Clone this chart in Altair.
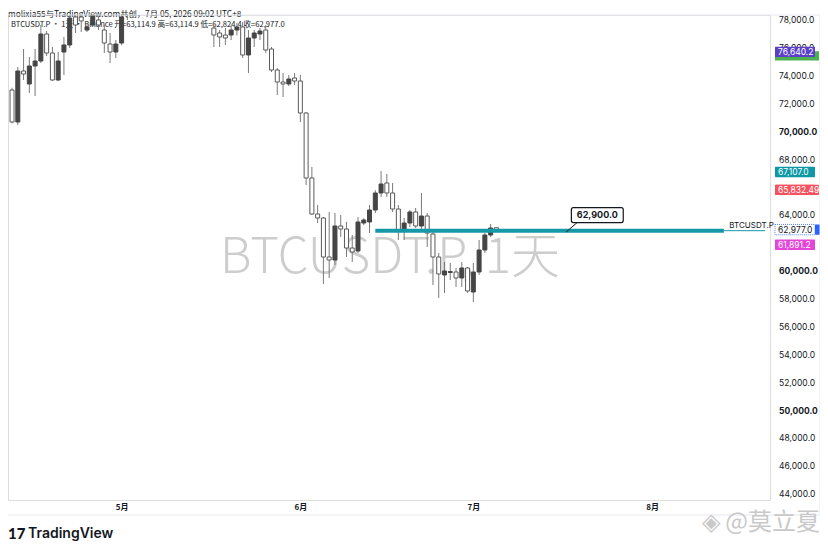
import altair as alt
import pandas as pd

# ---------------- data ----------------
dates = (
    [f"2026-04-{d:02d}" for d in range(12, 31)]
    + ["2026-05-01", "2026-05-02", "2026-05-03"]
    + [f"2026-05-{d:02d}" for d in range(17, 32)]
    + [f"2026-06-{d:02d}" for d in range(1, 31)]
    + [f"2026-07-{d:02d}" for d in range(1, 6)]
)
opens = [72987, 70693, 74349, 73417, 74708, 75066, 77002, 75640, 73704, 75712, 76214, 78222, 78222, 77289, 77648, 78006, 77289, 76285, 75712,
         76357, 78900, 79500,
         77432, 77074, 76930, 76930, 77289, 77504, 75497, 76715, 77002, 77289, 75927, 74421, 73561, 73417, 73848,
         73632, 71338, 66678, 64096, 63810, 61013, 60798, 63236, 63020, 61658, 61443, 63451, 63523, 64383, 65602,
         66320, 65602, 64455, 62877, 63451, 64240, 63236, 63953, 62662, 61013, 59723, 59900, 59938, 59508, 60225,
         58504, 59938, 61515, 62590, 63114.9]
highs = [73150, 74636, 75927, 75353, 75927, 77648, 77217, 76070, 75712, 76787, 78400, 78600, 78500, 77800, 78700, 78300, 77648, 77074, 76572,
         78600, 79800, 80200,
         77791, 77289, 77432, 77648, 77800, 77863, 77289, 77289, 77432, 77648, 76070, 74565, 74206, 74063, 74206,
         74063, 71410, 67466, 64742, 63881, 64240, 64168, 64025, 63523, 62590, 63881, 63800, 64742, 65800, 67180,
         66965, 66320, 64742, 63810, 64383, 64527, 65602, 64168, 62949, 61300, 60655, 60583, 60225, 60655, 60300,
         60583, 62231, 62733, 63379, 63114.9]
lows = [70600, 70478, 73704, 72772, 72557, 74923, 75425, 73632, 73632, 74063, 75998, 77074, 77146, 77146, 77500, 77289, 75640, 74923, 75282,
        76200, 78006, 78150,
        76070, 76070, 76214, 76572, 76900, 75282, 74206, 76070, 76572, 75640, 74278, 72629, 72485, 73274, 73346,
        70693, 66176, 64025, 63451, 59078, 59508, 60440, 62446, 61013, 60655, 61300, 63300, 62733, 64168, 65315,
        65315, 64240, 62231, 62231, 63160, 63092, 62949, 61730, 59006, 58074, 58432, 59364, 58862, 58862, 58432,
        57787, 59723, 61300, 62446, 62824.4]
closes = [70693, 74349, 74134, 74708, 75066, 77002, 75640, 73704, 75066, 76214, 78150, 77648, 77935, 77504, 78366, 77648, 76357, 75712, 76285,
          78222, 79500, 79100,
          76930, 76787, 76715, 77289, 77504, 75497, 76715, 77074, 77217, 75855, 74421, 73561, 73417, 73776, 73632,
          71338, 66678, 64096, 63810, 61013, 60798, 63236, 63020, 61658, 61372, 63523, 63666, 64383, 65602, 66248,
          65602, 64455, 62949, 63451, 64240, 63236, 63953, 62733, 61013, 59795, 60010, 59970, 59508, 60225, 58576,
          59938, 61515, 62590, 63092, 62977.0]

# price-scale labels that are visible (66,000 and 62,000 sit fully under badges)
price_ticks = [44000, 46000, 48000, 50000, 52000, 54000, 56000, 58000, 60000, 64000, 68000, 70000, 72000, 74000, 76000, 78000]
month_ticks = ["2026-05-01", "2026-06-01", "2026-07-01", "2026-08-01"]

# horizontal drawing (62,900 level)
level_price = 62900
level_start = "2026-06-14"
level_end = "2026-08-13T11:00"
level_label_end = "2026-08-20T14:00"

# price-scale badges
badge_texts = ["76,640.2", "67,107.0", "65,832.49", "61,891.2"]
badge_prices = [75720, 67107, 65832, 61891]
badge_colors = ["#5b3fc6", "#0e98a6", "#f5515f", "#e445d9"]

# ---------------- frame ----------------
X0, X1 = "2026-04-12T04:00", "2026-08-20T14:00"
Y0, Y1 = 43590, 78365
W, H = 762, 485

df = pd.DataFrame({"date": pd.to_datetime(dates), "open": opens, "high": highs, "low": lows, "close": closes})
df["dir"] = ["up" if c >= o else "down" for o, c in zip(opens, closes)]

xs = alt.Scale(domain=[X0, X1])
ys = alt.Scale(domain=[Y0, Y1], nice=False, zero=False)

xaxis = alt.Axis(values=month_ticks, labelExpr="(month(datum.value)+1) + '月'", title=None, grid=False,
                 ticks=False, domain=False, labelFontSize=8, labelFontWeight="bold", labelColor="#131722",
                 labelPadding=3, labelFont="Noto Sans CJK SC")

FONT = "Noto Sans CJK SC"

# price scale labels (drawn as text)
tick_df = pd.DataFrame({"p": price_ticks, "t": [f"{v:,.1f}" for v in price_ticks]})
tick_df["bold"] = [v % 10000 == 0 for v in price_ticks]
ticks_normal = alt.Chart(tick_df[~tick_df["bold"]]).mark_text(
    fontSize=8.5, font="Inter", color="#131722", align="left", baseline="middle"
).encode(x=alt.value(771), y="p:Q", text="t:N")
ticks_bold = alt.Chart(tick_df[tick_df["bold"]]).mark_text(
    fontSize=8.5, font="Inter", fontWeight="bold", color="#131722", align="left", baseline="middle"
).encode(x=alt.value(771), y="p:Q", text="t:N")

# watermark
watermark = alt.Chart(pd.DataFrame({"t": ["BTCUSDT.P, 1天"]})).mark_text(
    fontSize=49, font=FONT, fontWeight=300, color="#cdcdcd", align="center", baseline="middle"
).encode(x=alt.value(382), y=alt.value(243), text="t:N")

# header
header1 = alt.Chart(pd.DataFrame({"t": ["molixia55与TradingView.com共创，7月 05, 2026 09:02 UTC+8"]})).mark_text(
    fontSize=8.3, font=FONT, color="#131722", align="left", baseline="top"
).encode(x=alt.value(0), y=alt.value(-5.5), text="t:N")
header2 = alt.Chart(pd.DataFrame({"t": ["BTCUSDT.P · 1天 · Binance  开=63,114.9  高=63,114.9  低=62,824.4  收=62,977.0"]})).mark_text(
    fontSize=7.6, font=FONT, color="#131722", align="left", baseline="middle"
).encode(x=alt.value(3), y=alt.value(10), text="t:N")

wick = alt.Chart(df).mark_rule(color="#7a7a7a", strokeWidth=1, clip=True).encode(
    x=alt.X("date:T", scale=xs, axis=xaxis),
    y=alt.Y("low:Q", scale=ys, axis=None),
    y2="high:Q",
)
body = alt.Chart(df).mark_bar(size=4, strokeWidth=1, clip=True).encode(
    x="date:T",
    y="open:Q",
    y2="close:Q",
    fill=alt.Fill("dir:N", scale=alt.Scale(domain=["up", "down"], range=["#454545", "#ffffff"]), legend=None),
    stroke=alt.Stroke("dir:N", scale=alt.Scale(domain=["up", "down"], range=["#454545", "#5a5a5a"]), legend=None),
)

level_df = pd.DataFrame({"x": [pd.Timestamp(level_start)], "x2": [pd.Timestamp(level_end)], "y": [level_price]})
level = alt.Chart(level_df).mark_rule(color="#1699a7", strokeWidth=4).encode(x="x:T", x2="x2:T", y="y:Q")
level_thin_df = pd.DataFrame({"x": [pd.Timestamp(level_end)], "x2": [pd.Timestamp(level_label_end)], "y": [level_price]})
level_thin = alt.Chart(level_thin_df).mark_rule(color="#1699a7", strokeWidth=1).encode(x="x:T", x2="x2:T", y="y:Q")
level_text = alt.Chart(pd.DataFrame({"x": [pd.Timestamp("2026-08-18T06:00")], "y": [level_price], "t": ["BTCUSDT.P"]})).mark_text(
    fontSize=8, font="Inter", color="#131722", align="center", baseline="bottom", dy=-1
).encode(x="x:T", y="y:Q", text="t:N")

# callout "62,900.0"
call_box_df = pd.DataFrame({"x": [pd.Timestamp("2026-07-18T00:00")], "x2": [pd.Timestamp("2026-07-27T00:00")],
                            "y": [63480], "y2": [64560]})
call_box = alt.Chart(call_box_df).mark_rect(fill="white", stroke="#131722", strokeWidth=1.2, cornerRadius=2).encode(
    x="x:T", x2="x2:T", y="y:Q", y2="y2:Q")
call_text = alt.Chart(pd.DataFrame({"x": [pd.Timestamp("2026-07-22T12:00")], "y": [64020], "t": ["62,900.0"]})).mark_text(
    fontSize=9, font="Inter", fontWeight="bold", color="#131722", align="center", baseline="middle"
).encode(x="x:T", y="y:Q", text="t:N")
call_ptr_df = pd.DataFrame({"x": [pd.Timestamp("2026-07-17T02:00")], "x2": [pd.Timestamp("2026-07-19T00:00")],
                            "y": [62800], "y2": [63480]})
call_ptr = alt.Chart(call_ptr_df).mark_rule(color="#131722", strokeWidth=1).encode(x="x:T", x2="x2:T", y="y:Q", y2="y2:Q")

# badges on price scale
green_df = pd.DataFrame({"y": [75430 - 330], "y2": [75430 + 330]})
green = alt.Chart(green_df).mark_rect(fill="#4caf50").encode(x=alt.value(767), x2=alt.value(811), y="y:Q", y2="y2:Q")
bdf = pd.DataFrame({"t": badge_texts, "p": badge_prices, "c": badge_colors})
bdf["lo"] = bdf["p"] - 370
bdf["hi"] = bdf["p"] + 370
badge_rect = alt.Chart(bdf).mark_rect(cornerRadius=1).encode(
    x=alt.value(767), x2=alt.value(807), y="lo:Q", y2="hi:Q", fill=alt.Fill("c:N", scale=None))
red_wide = alt.Chart(bdf[bdf["t"] == "65,832.49"]).mark_rect(cornerRadius=1).encode(
    x=alt.value(767), x2=alt.value(811), y="lo:Q", y2="hi:Q", fill=alt.Fill("c:N", scale=None))
badge_text = alt.Chart(bdf).mark_text(fontSize=8.5, font="Inter", color="white", align="left", baseline="middle").encode(
    x=alt.value(770), y="p:Q", text="t:N")

last_df = pd.DataFrame({"p": [62977.0], "lo": [62977.0 - 370], "hi": [62977.0 + 370], "t": ["62,977.0"]})
last_rect = alt.Chart(last_df).mark_rect(fill="white", stroke="#2962ff", strokeWidth=0.8, strokeDash=[1, 1]).encode(
    x=alt.value(767), x2=alt.value(807), y="lo:Q", y2="hi:Q")
last_tab = alt.Chart(last_df).mark_rect(fill="#2962ff", cornerRadius=1).encode(
    x=alt.value(807), x2=alt.value(812), y="lo:Q", y2="hi:Q")
last_text = alt.Chart(last_df).mark_text(fontSize=8.5, font="Inter", color="#131722", align="left", baseline="middle").encode(
    x=alt.value(770), y="p:Q", text="t:N")

# frame lines
top_line = alt.Chart(pd.DataFrame({"a": [0]})).mark_rule(color="#e6e8ee", strokeWidth=1).encode(
    x=alt.value(-8), x2=alt.value(812), y=alt.value(0))
bottom_line = alt.Chart(pd.DataFrame({"a": [0]})).mark_rule(color="#e6e8ee", strokeWidth=1).encode(
    x=alt.value(-8), x2=alt.value(812), y=alt.value(500))
right_line = alt.Chart(pd.DataFrame({"a": [0]})).mark_rule(color="#e6e8ee", strokeWidth=1).encode(
    x=alt.value(812), y=alt.value(0), y2=alt.value(500))

# footer
logo = alt.Chart(pd.DataFrame({"t": ["17"]})).mark_text(
    fontSize=15, font="Lato", fontWeight=900, color="#131722", align="left", baseline="middle"
).encode(x=alt.value(0), y=alt.value(519), text="t:N")
brand = alt.Chart(pd.DataFrame({"t": ["TradingView"]})).mark_text(
    fontSize=14, font="Inter", fontWeight=600, color="#131722", align="left", baseline="middle"
).encode(x=alt.value(20), y=alt.value(519), text="t:N")
wm2 = alt.Chart(pd.DataFrame({"t": ["◈ @莫立夏"]})).mark_text(
    fontSize=24, font=FONT, color="#c9c9c9", align="right", baseline="middle"
).encode(x=alt.value(812), y=alt.value(508), text="t:N")

chart = alt.layer(
    watermark, header1, header2, wick, body, level, level_thin, level_text,
    call_ptr, call_box, call_text, ticks_normal, ticks_bold,
    green, badge_rect, red_wide, badge_text, last_rect, last_tab, last_text,
    top_line, bottom_line, right_line, logo, brand, wm2,
).properties(
    width=W, height=H,
    padding={"left": 0, "top": 7, "right": 50, "bottom": 45},
    autosize="none",
).configure_view(stroke=None).configure(background="white")

chart.save("out.html", embed_options={"renderer": "svg", "actions": False})
